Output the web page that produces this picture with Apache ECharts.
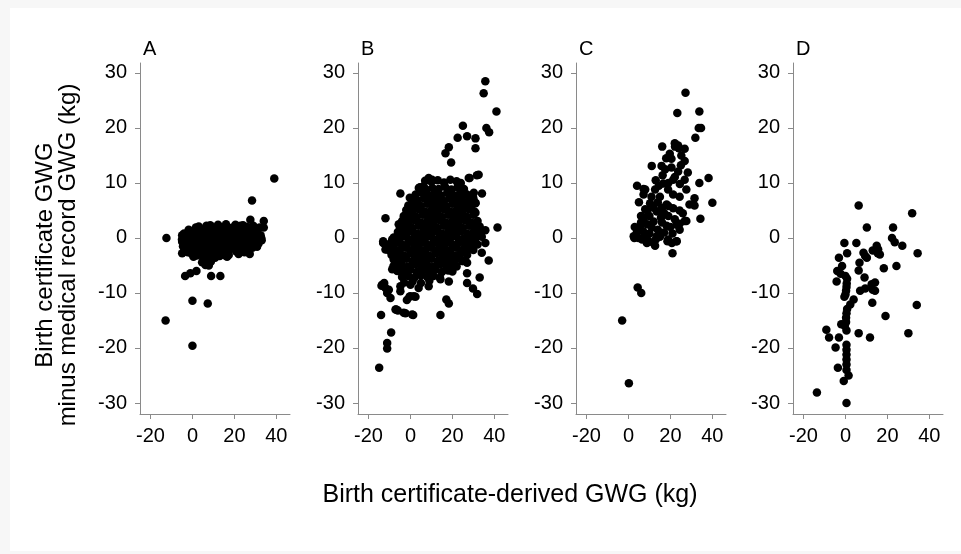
<!DOCTYPE html>
<html>
<head>
<meta charset="utf-8">
<script src="https://cdn.jsdelivr.net/npm/echarts@6/dist/echarts.min.js"></script>
<style>
html,body{margin:0;padding:0;background:#f7f7f7;}
#chart{width:961px;height:554px;}
</style>
</head>
<body>
<div id="chart"></div>
<script>
// ---------- DATA ----------
const panelTitles = ['A', 'B', 'C', 'D'];
const xTicks = [-20, 0, 20, 40];
const yTicks = [-30, -20, -10, 0, 10, 20, 30];
const yAxisTitle = 'Birth certificate GWG\nminus medical record GWG (kg)';
const xAxisTitle = 'Birth certificate-derived GWG (kg)';

const panelA = [
  [39,10.8],[28.4,6.8],[-12.4,0],[-12.8,-15],[0,-19.6],[0,-11.4],[7.3,-11.9],[8.9,-6.9],[13.3,-6.9],
  [-3.5,-6.9],[-1,-6.4],[1.9,-6],[34,3.1],[34,1.9],[32.8,0],[27.3,-2.9],[1.6,1.9],[6.7,2.2],
  [-4.9,0.5],[-4.9,-0.7],[-4.9,-2.8],[4.6,-4.4],[6.2,-4.9],[7.8,-5],[16.5,-3.4],[13.3,1.8],[20.5,2.4],
  [22.9,2.2],[27.6,3.3],[27.6,1.8],[27.6,-1.3],[30.8,-1.6],[17.3,-3.1],[21.3,-2.2],[5.4,-2.8],[7.8,-3.1],
  [-5,-0.3],[-4.5,-1.5],[-4,0.8],[-3.8,-2],[-3.2,-0.6],[-3,0.3],[-2.5,-1.2],[-2.2,-2.6],[-2,0.6],
  [-1.6,-0.4],[-1.2,-1.8],[-1,1],[-0.6,-0.9],[-0.3,-2.9],[0,0.2],[0.2,-1.5],[0.5,1.2],[0.8,-0.5],
  [1,-2.2],[1.3,0.5],[1.7,-1],[2,-3.2],[2.2,0.9],[2.6,-0.2],[2.9,-1.8],[3.2,1.4],[3.5,-0.7],
  [3.8,-2.6],[4,0.3],[4.3,-1.4],[4.6,1],[5,-0.2],[5.3,-2],[5.6,1.6],[6,-0.9],[6.2,-3.4],
  [6.5,0.5],[6.9,-1.6],[7.2,1.2],[7.5,-0.3],[7.8,-2.4],[8.1,0.8],[8.4,-1.1],[8.8,1.9],[9,-0.5],
  [9.3,-3],[9.6,0.4],[10,-1.8],[10.3,1.3],[10.6,-0.8],[11,0.2],[11.3,-2.5],[11.6,1.7],[12,-0.4],
  [12.3,-1.5],[12.7,0.9],[13,-3.3],[13.4,0.1],[13.8,-1],[14,1.5],[14.4,-0.6],[14.8,-2.2],[15,0.6],
  [15.4,2.1],[15.8,-0.2],[16.2,-1.4],[16.5,1],[16.9,-2.8],[17.2,0.3],[17.6,-0.9],[18,1.8],[18.3,-0.3],
  [18.7,-1.8],[19,0.8],[19.4,-0.6],[19.8,2],[20.1,-1.2],[20.5,0.4],[20.8,-2.4],[21.2,1.2],[21.6,-0.2],
  [22,1.9],[22.3,-1],[22.7,0.6],[23,-2],[23.4,1.4],[23.8,-0.4],[24.1,2.3],[24.5,0.1],[24.9,-1.4],
  [25.2,1],[25.6,-0.6],[26,2],[26.3,-2.2],[26.7,0.5],[27,-1],[27.4,1.6],[27.8,-0.2],[28.2,0.9],
  [28.6,-1.8],[29,2.2],[29.3,0.2],[29.7,-0.8],[30.1,1.3],[30.5,-0.1],[31,0.8],[31.5,-1],[32,1.9],
  [32.5,0.5],[33,-0.4],[12.2,2.4],[8.5,2.3],[16,2.5],[4.4,-3.1],[10.8,-3.6],[15.7,-3.2],[22,-2.9],
  [24.8,-2.6],[0.5,-3.4],[-1.8,1.5],[3,2.1],[6.4,-4.1],[8.8,-4.3],[5.2,-3.6]
];

const panelB = [
  [35.7,28.5],[34.9,26.3],[41,23],[36.2,20],[37.5,19.2],[25,20.4],[22.5,18.2],[27,18.5],[31,18.1],
  [31,16.3],[18.3,16.5],[16.7,15.4],[19.4,13.7],[32.5,11.5],[28.2,10.9],[34.1,8.1],[-4.8,8.1],[-0.3,7.3],
  [-11.9,3.6],[41.5,1.9],[35.7,1.4],[37.3,-4.1],[-13,-0.9],[-13.8,-8.7],[-12.5,-8.2],[-14,-14],[-9.2,-17.2],
  [-11.1,-19.1],[-11.1,-20.1],[-14.9,-23.6],[-6.8,-13],[-6,-13.2],[-2.4,-13.7],[1.3,-14],[-1.7,-11.3],[-0.5,-10.7],
  [2.4,-10.7],[14.3,-14],[17.1,-11.2],[18.3,-11.9],[27,-6.4],[27,-8.2],[29.8,-9.2],[31.8,-10.2],[33,-7.2],
  [-10.3,-9.4],[-9.5,-10.9],[8.7,10.9],[10.3,10.6],[6.3,9.4],[4,9.1],[27.8,10.9],[31.7,11.4],[30.2,8.2],
  [31,6.4],[31,4.6],[-4.8,2.1],[-5.7,0.3],[-3.2,4],[0.8,4.9],[-13.5,-8.5],[-11.9,-9.1],[-11.1,-10],
  [-4.8,-8.8],[-4.8,-9.7],[0,-8.5],[0,-10.6],[1.6,-10.6],[3.9,-9.1],[8.7,-8.8],[14.3,-7.5],[18.3,-7.9],
  [-7.1,-13],[-3.2,-13.6],[0.8,-13.9],[34,-2.7],[35.7,-0.9],[24.6,-4.2],[27,-4.5],[20.6,-4.5],[-8.1,-5.1],
  [-6.3,-6],[-8.7,-5.7],[-13,-0.6],[-11.9,-2.1],[-9.5,-2.4],[-5.6,2.5],[-8.7,-0.3],[-8,-1.2],
  [7,10.4],[10,10.2],[13,10.5],[16,10.1],[19,10.6],[22,10.3],[24,10],
  [4.5,9.2],[7.5,8.8],[10.5,9.1],[13.5,8.9],[16.5,9.3],[19.5,8.8],[22.5,9.2],[25.5,8.9],
  [2.5,7.9],[5.5,8.2],[8.5,7.8],[11.5,8.1],[14.5,7.7],[17.5,8.2],[20.5,7.8],[23.5,8.1],[27,7.9],
  [0.5,7.1],[3.5,6.8],[6.5,7.2],[9.5,6.9],[12.5,7.1],[15.5,6.8],[18.5,7.2],[21.5,6.9],[24.5,7.1],[28,6.8],[30,7.2],
  [-1,5.9],[2,6.1],[5,5.8],[8,6.2],[11,5.9],[14,6.1],[17,5.8],[20,6.2],[23,5.9],[26,6.1],[29,5.8],[31,6.3],
  [-2,5.1],[1,4.9],[4,5.2],[7,4.8],[10,5.1],[13,4.9],[16,5.2],[19,4.8],[22,5.1],[25,4.9],[28,5.2],[30.5,4.8],
  [-3,3.9],[0,4.1],[3,3.8],[6,4.2],[9,3.9],[12,4.1],[15,3.8],[18,4.2],[21,3.9],[24,4.1],[27,3.8],[30,4.2],
  [-4,3.1],[-1,2.9],[2,3.2],[5,2.8],[8,3.1],[11,2.9],[14,3.2],[17,2.8],[20,3.1],[23,2.9],[26,3.2],[29,2.8],[32,3.1],
  [-5,1.9],[-2,2.1],[1,1.8],[4,2.2],[7,1.9],[10,2.1],[13,1.8],[16,2.2],[19,1.9],[22,2.1],[25,1.8],[28,2.2],[31,1.9],[33,2.1],
  [-6,1.1],[-3,0.9],[0,1.2],[3,0.8],[6,1.1],[9,0.9],[12,1.2],[15,0.8],[18,1.1],[21,0.9],[24,1.2],[27,0.8],[30,1.1],[33,0.9],
  [-8,0.1],[-5,-0.1],[-2,0.2],[1,-0.2],[4,0.1],[7,-0.1],[10,0.2],[13,-0.2],[16,0.1],[19,-0.1],[22,0.2],[25,-0.2],[28,0.1],[31,-0.1],[34,0.2],
  [-10,-1.1],[-7,-0.9],[-4,-1.2],[-1,-0.8],[2,-1.1],[5,-0.9],[8,-1.2],[11,-0.8],[14,-1.1],[17,-0.9],[20,-1.2],[23,-0.8],[26,-1.1],[29,-0.9],[32,-1.2],
  [-11,-2.1],[-8,-1.9],[-5,-2.2],[-2,-1.8],[1,-2.1],[4,-1.9],[7,-2.2],[10,-1.8],[13,-2.1],[16,-1.9],[19,-2.2],[22,-1.8],[25,-2.1],[28,-1.9],[30,-2.2],
  [-9,-3.1],[-6,-2.9],[-3,-3.2],[0,-2.8],[3,-3.1],[6,-2.9],[9,-3.2],[12,-2.8],[15,-3.1],[18,-2.9],[21,-3.2],[24,-2.8],[27,-3.1],
  [-8,-3.9],[-5,-4.1],[-2,-3.8],[1,-4.2],[4,-3.9],[7,-4.1],[10,-3.8],[13,-4.2],[16,-3.9],[19,-4.1],[22,-3.8],[25,-4.2],
  [-7,-5.1],[-4,-4.9],[-1,-5.2],[2,-4.8],[5,-5.1],[8,-4.9],[11,-5.2],[14,-4.8],[17,-5.1],[20,-4.9],[22,-5.2],
  [-6,-5.9],[-3,-6.1],[0,-5.8],[3,-6.2],[6,-5.9],[9,-6.1],[12,-5.8],[15,-6.2],[18,-5.9],[20,-6.1],
  [-4,-7.1],[-1,-6.9],[2,-7.2],[5,-6.8],[8,-7.1],[11,-6.9],[14,-7.2],
  [-3,-8.1],[1,-7.9],[5,-8.2],[9,-7.8]
];

const panelC = [
  [27.2,26.4],[23.3,22.7],[33.8,23],[34.6,20],[33.5,20],[31.9,18.2],[38.2,10.9],[33.8,10],[40,6.4],
  [34.3,3.5],[4.1,9.5],[7.2,8.9],[11.1,13.1],[16.1,16.6],[22.2,16.6],[24,16.3],[21,-2.8],[2.8,0],
  [4.8,0],[4.4,-9],[6.1,-10],[-3,-15],[0.2,-26.4],[8.8,-0.9],[12.7,-1.4],[18.6,-0.6],[20.7,-0.9],
  [23,-0.6],[24.4,2.6],[27.6,3.1],[31.5,5.9],[24.4,5],
  [22.1,17.2],[23.7,16.8],[26.8,16.2],[19.7,15.3],[25.2,15],[20.5,14.4],[26.8,14],[15.8,13.1],[23.7,12.1],
  [28.3,11.9],[16.3,11.4],[22.1,11.1],[16.6,9.9],[21.3,10.6],[26.8,10.6],[8,8.8],[12.7,8.8],[18.9,8.8],
  [27.6,8.8],[7.2,7.9],[15,7.5],[21.3,7.9],[24.4,7.5],[31.5,7.2],[10.3,6.3],[18.2,6.1],[29.1,6.1],
  [8,5.2],[13.5,4.8],[21.3,5.4],[25.9,4.5],[7.5,3.7],[15.5,3.7],[22.1,3.4],[26.8,3.1],[5.6,1.9],
  [11.1,1.9],[18.2,2.2],[24.4,1.5],[2.5,0.3],[8,0.6],[13.5,0.3],[18.9,-0.3],[22.9,-0.6],[11.9,-0.9],
  [4,1],[6,2.8],[7,1.2],[9,2.5],[10,4],[12,3],[14,1.5],[16,2.8],[17,4.5],[19,4],[20,2],[12,5.5],
  [14,6.5],[16,5.5],[11,7.5],[9,5],[6,4],[5,6.5],[3,2],[10,0.8],[15,0.2],[17,1],[13,-0.3],[19,5.8],
  [21,0.8],[23,2.4],[9.5,-0.5],[6.5,-0.3],[14.5,9.5],[17.5,12.5],[19,10],[13,10.5],[20.5,12.8],
  [24.5,9.8],[25,13.2],[18,14.5]
];

const panelD = [
  [6.3,5.9],[31.8,4.5],[10.2,1.9],[22.7,1.9],[22.2,0],[23.5,-0.8],[27.1,-1.4],[34.4,-2.8],[-0.5,-0.9],
  [5.2,-0.9],[0.8,-2.8],[14.9,-1.4],[15.4,-2.8],[13,-2.3],[8.6,-2.7],[9.4,-3.3],[6.7,-4.5],[6.3,-5.9],
  [24.3,-5.1],[18.3,-5.5],[-3.1,-3.6],[-1.6,-5.1],[-3.9,-6],[-2.3,-6.5],[-4.2,-7.9],[0,-6.9],[0.8,-7.4],
  [0.6,-8.3],[0.5,-8.9],[0.3,-9.6],[0,-10.3],[-0.5,-10.7],[9.1,-7.2],[14.1,-8.1],[12.5,-8.4],[7,-9.6],
  [9.4,-9.2],[13,-9.4],[14.1,-9.6],[12.8,-11.8],[3.9,-11.2],[2.3,-12.1],[0.8,-12.9],[0.5,-13.7],[0.3,-14.5],
  [0.3,-15.3],[-0.3,-16],[0.5,-16.8],[-2,-15.7],[19.1,-14.2],[34,-12.2],[30,-17.3],[6.3,-17.3],[11.7,-18.1],
  [-9.1,-16.7],[-7.8,-18.1],[-3.1,-18.1],[-4.7,-19.9],[0.5,-19.4],[0.5,-20.3],[0.5,-21.2],[0.5,-22.1],[0.5,-23],
  [-3.6,-23.6],[0.5,-24],[-0.8,-26],[1.5,-25],[-13.6,-28.1],[0.5,-30],[16.4,-3],[10.2,-3.6],[15.6,-2.1]
];

const panels = [panelA, panelB, panelC, panelD];

// ---------- LAYOUT ----------
const gridLefts = [140, 358, 576, 793];
const gridWidth = 150;
const gridTop = 63;
const gridHeight = 351;
const FONT = '"Liberation Sans", Arial, Helvetica, sans-serif';
const AXIS_COLOR = '#8a8a8a';

const grids = [], xAxes = [], yAxes = [], series = [], graphics = [];

graphics.push({
  type: 'rect', z: -100, silent: true,
  shape: { x: 10, y: 8, width: 951, height: 543 },
  style: { fill: '#ffffff' }
});

panels.forEach((data, i) => {
  grids.push({ left: gridLefts[i], top: gridTop, width: gridWidth, height: gridHeight });
  xAxes.push({
    type: 'value', gridIndex: i, min: -25, max: 46.5,
    splitLine: { show: false },
    axisLine: { show: true, onZero: false, lineStyle: { color: AXIS_COLOR, width: 1 } },
    axisTick: { show: true, length: 5, inside: false, customValues: xTicks, lineStyle: { color: AXIS_COLOR } },
    axisLabel: { show: true, customValues: xTicks, fontSize: 20, color: '#000', fontFamily: FONT, margin: 12 }
  });
  yAxes.push({
    type: 'value', gridIndex: i, min: -32, max: 31.8,
    splitLine: { show: false },
    axisLine: { show: true, onZero: false, lineStyle: { color: AXIS_COLOR, width: 1 } },
    axisTick: { show: true, length: 5, inside: false, customValues: yTicks, lineStyle: { color: AXIS_COLOR } },
    axisLabel: { show: true, customValues: yTicks, fontSize: 20, color: '#000', fontFamily: FONT, margin: 13 }
  });
  series.push({
    type: 'scatter', xAxisIndex: i, yAxisIndex: i, data: data,
    symbol: 'circle', symbolSize: 8.5,
    itemStyle: { color: '#000', opacity: 1 },
    silent: true, animation: false
  });
  graphics.push({
    type: 'text', left: gridLefts[i] + 3, top: 39,
    style: { text: panelTitles[i], font: '20px ' + FONT, fill: '#000' }
  });
});

graphics.push({
  type: 'text', x: 57, y: 255, rotation: Math.PI / 2,
  style: { text: yAxisTitle, font: '24px ' + FONT, fill: '#000', align: 'center', verticalAlign: 'middle', lineHeight: 23 }
});
graphics.push({
  type: 'text', x: 510, y: 495,
  style: { text: xAxisTitle, font: '25px ' + FONT, fill: '#000', align: 'center', verticalAlign: 'middle' }
});

const chart = echarts.init(document.getElementById('chart'), null, { renderer: 'canvas' });
chart.setOption({
  backgroundColor: '#f7f7f7',
  animation: false,
  grid: grids,
  xAxis: xAxes,
  yAxis: yAxes,
  series: series,
  graphic: graphics
});
</script>
</body>
</html>
